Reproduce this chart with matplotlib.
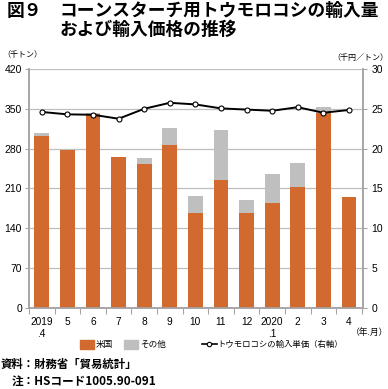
import matplotlib
matplotlib.use("Agg")
import matplotlib.pyplot as plt
import numpy as np
from matplotlib.patches import Rectangle
from matplotlib.lines import Line2D

plt.rcParams['font.family'] = ['Noto Sans CJK JP', 'DejaVu Sans']

months = ["2019\n.4", "5", "6", "7", "8", "9", "10", "11", "12", "2020\n.1", "2", "3", "4"]
us = [302, 278, 341, 265, 252, 287, 166, 224, 167, 185, 212, 343, 194]
other = [6, 2, 1, 0, 12, 30, 31, 88, 23, 50, 43, 10, 0]
price = [24.6, 24.3, 24.25, 23.75, 25.0, 25.75, 25.55, 25.05, 24.9, 24.75, 25.2, 24.5, 24.85]

orange = "#D2692E"
grey = "#BFBFBF"
axc = "#A6A6A6"

fig = plt.figure(figsize=(3.88, 3.89), dpi=100)
ax = fig.add_axes([29/388, 1-307.7/389, (363-29)/388, (307.7-69)/389])
x = np.arange(len(months))
ax.bar(x, us, width=0.58, color=orange, zorder=3)
ax.bar(x, other, bottom=us, width=0.58, color=grey, zorder=3)
ax.set_xlim(-0.5, len(months) - 0.5 + 0.05)
ax.set_ylim(0, 420)
ax.set_yticks(np.arange(0, 421, 70))
ax.yaxis.grid(True, color="#BFBFBF", linewidth=0.9, zorder=0)
ax.spines["top"].set_visible(False)
for s in ["left", "right", "bottom"]:
    ax.spines[s].set_color(axc)
    ax.spines[s].set_linewidth(1.2)
ax.set_xticks(np.arange(-0.5, len(months), 1))
ax.set_xticklabels([])
ax.set_xticks(x, minor=True)
ax.set_xticklabels(months, minor=True, fontsize=7.3, family=['Liberation Sans'], va='top', linespacing=1.15)
ax.tick_params(axis='x', which='major', length=4, color=axc, direction='out')
ax.tick_params(axis='x', which='minor', length=0, pad=7)
ax.tick_params(axis='y', length=3, color=axc, labelsize=7.5, pad=2)
for t in ax.get_yticklabels():
    t.set_family('Liberation Sans')

ax2 = ax.twinx()
ax2.plot(x, price, color="black", linewidth=1.4, marker='o', markersize=3.6,
         markerfacecolor='white', markeredgecolor='black', markeredgewidth=0.8, zorder=5)
ax2.set_ylim(0, 30)
ax2.set_yticks(np.arange(0, 31, 5))
ax2.spines["top"].set_visible(False)
for s in ["left", "right", "bottom"]:
    ax2.spines[s].set_color(axc)
    ax2.spines[s].set_linewidth(1.2)
ax2.tick_params(axis='y', length=3, color=axc, labelsize=7.5, pad=3)
for t in ax2.get_yticklabels():
    t.set_family('Liberation Sans')

# titles
fig.text(7/388, 1-11/389, "図９", fontsize=12.75, fontweight='bold', va='center', ha='left')
fig.text(60/388, 1-11/389, "コーンスターチ用トウモロコシの輸入量", fontsize=12.75, fontweight='bold', va='center', ha='left')
fig.text(60/388, 1-29.5/389, "および輸入価格の推移", fontsize=12.75, fontweight='bold', va='center', ha='left')
fig.text(2/388, 1-55/389, "（千トン）", fontsize=5.8, va='center', ha='left')
fig.text(388/388, 1-57.5/389, "（千円／トン）", fontsize=5.8, va='center', ha='right')
fig.text(388/388, 1-332/389, "（年.月）", fontsize=6.3, va='center', ha='right')

# legend
ly = 1-344/389
fig.patches.append(Rectangle((80/388, ly-4.5/389), 14/388, 9/389, transform=fig.transFigure, color=orange))
fig.text(96/388, ly, "米国", fontsize=6.2, va='center', ha='left')
fig.patches.append(Rectangle((124/388, ly-4.5/389), 14/388, 9/389, transform=fig.transFigure, color=grey))
fig.text(140/388, ly, "その他", fontsize=6.2, va='center', ha='left')
fig.lines.append(Line2D([202/388, 217/388], [ly, ly], transform=fig.transFigure, color='black', linewidth=1.2))
fig.lines.append(Line2D([209/388], [ly], transform=fig.transFigure, marker='o', markersize=3.2,
                        markerfacecolor='white', markeredgecolor='black', markeredgewidth=0.8))
fig.text(217/388, ly, "トウモロコシの輸入単価（右軸）", fontsize=6.0, va='center', ha='left')

fig.text(1/388, 1-364.5/389, "資料：財務省「貿易統計」", fontsize=8.2, fontweight='bold', va='center', ha='left')
fig.text(12/388, 1-381.5/389, "注：HSコード1005.90-091", fontsize=8.4, fontweight='bold', va='center', ha='left')

fig.savefig("out.png", dpi=100)
